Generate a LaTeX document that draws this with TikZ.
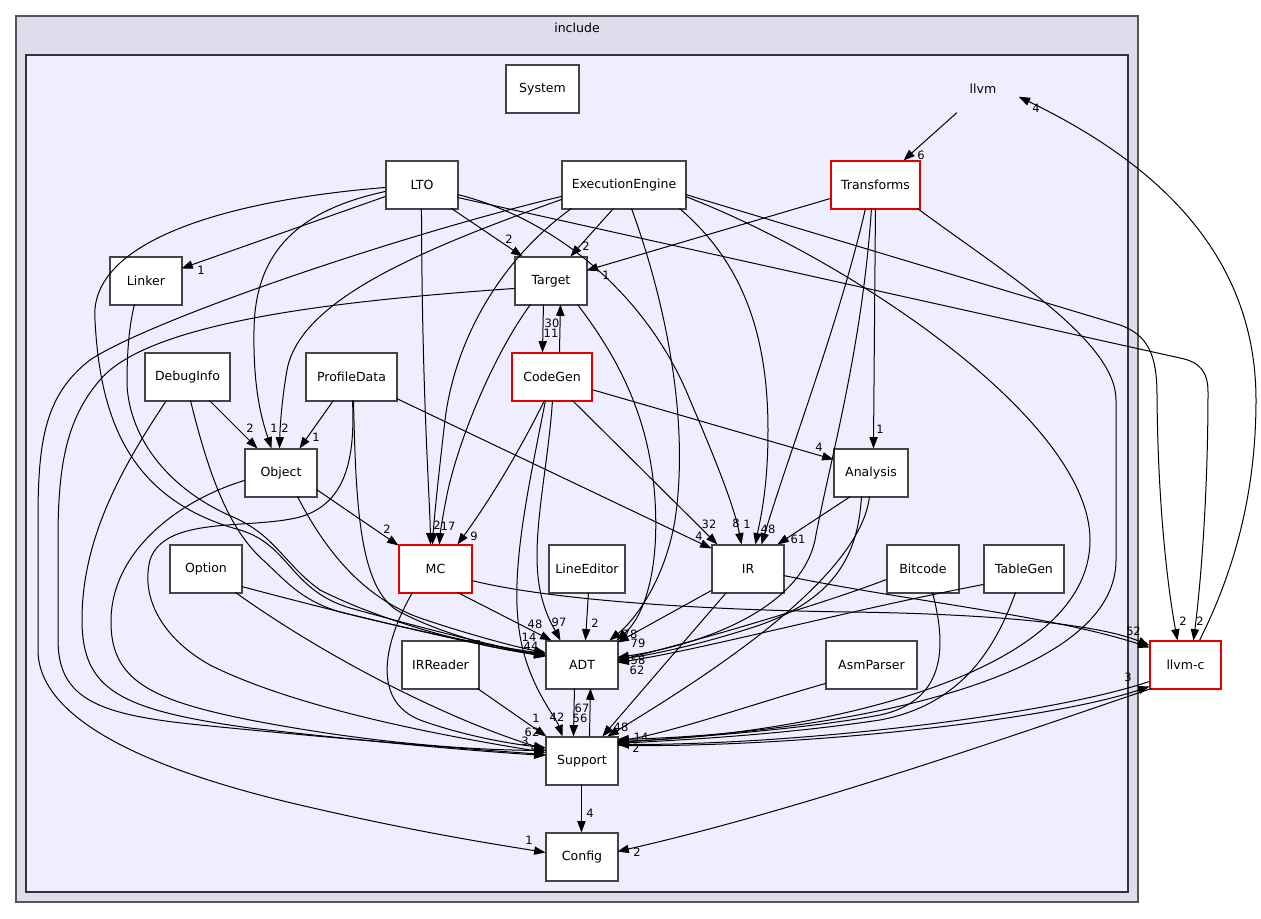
\documentclass[tikz,border=0pt]{standalone}
\usepackage{fontspec}
\setmainfont{DejaVu Sans}
\usetikzlibrary{arrows.meta}
\definecolor{incfill}{HTML}{DDDDEE}
\definecolor{llvmfill}{HTML}{EEEEFF}
\definecolor{incdraw}{HTML}{555555}
\definecolor{llvmdraw}{HTML}{333333}
\definecolor{boxdraw}{HTML}{444444}
\begin{document}
\begin{tikzpicture}[x=0.75pt,y=-0.75pt,
  box/.style={draw=boxdraw, fill=white, line width=0.8pt, minimum height=36pt, inner sep=0pt, font=\fontsize{9.4}{11}\selectfont},
  redbox/.style={box, draw=red!90!black},
  plain/.style={minimum height=36pt, minimum width=54pt, inner sep=0pt, font=\fontsize{9.4}{11}\selectfont},
  e/.style={draw=black, line width=0.75pt, -{Triangle[length=8.5pt,width=6.2pt]}},
  lbl/.style={font=\fontsize{8.6}{10}\selectfont, inner sep=0pt},
]
\useasboundingbox (0,0) rectangle (1261,919);
\fill[white] (0,0) rectangle (1261,919);
% clusters
\draw[fill=incfill, draw=incdraw, line width=1pt] (16,16) rectangle (1138,902);
\node[font=\fontsize{9.4}{11}\selectfont] (inclbl) at (577,28) {include};
\draw[fill=llvmfill, draw=llvmdraw, line width=0.9pt] (26,55) rectangle (1128,892);

% nodes
\node[plain] (llvm) at (983,89) {llvm};
\node[box, minimum width=54.75pt] (System) at (542.5,89) {System};
\node[box, minimum width=54pt] (LTO) at (422,185) {LTO};
\node[box, minimum width=93pt] (EE) at (624,185) {ExecutionEngine};
\node[redbox, minimum width=66.75pt] (Tr) at (875.5,185) {Transforms};
\node[box, minimum width=54pt] (Linker) at (146,281) {Linker};
\node[box, minimum width=54pt] (Target) at (551,281) {Target};
\node[box, minimum width=63.75pt] (DI) at (187.5,377) {DebugInfo};
\node[box, minimum width=68.25pt] (PD) at (351.5,377) {ProfileData};
\node[redbox, minimum width=60pt] (CG) at (552,377) {CodeGen};
\node[box, minimum width=54pt] (Object) at (281,473) {Object};
\node[box, minimum width=55.5pt] (An) at (871,473) {Analysis};
\node[box, minimum width=54pt] (Option) at (206,569) {Option};
\node[redbox, minimum width=54.75pt] (MC) at (435.5,569) {MC};
\node[box, minimum width=57pt] (LE) at (587,569) {LineEditor};
\node[box, minimum width=54pt] (IR) at (748,569) {IR};
\node[box, minimum width=54pt] (Bc) at (923,569) {Bitcode};
\node[box, minimum width=60pt] (TG) at (1024,569) {TableGen};
\node[box, minimum width=57.75pt] (IRR) at (440.5,665) {IRReader};
\node[box, minimum width=54pt] (ADT) at (582,665) {ADT};
\node[box, minimum width=68.25pt] (AP) at (871.5,665) {AsmParser};
\node[box, minimum width=54pt] (Support) at (582,761) {Support};
\node[box, minimum width=54pt] (Config) at (582,857) {Config};
\node[redbox, minimum width=53.25pt] (llvmc) at (1185.5,665) {llvm-c};

% edges
\draw[e] ([shift={(0,36)}]LTO.north west) -- ([shift={(72,12)}]Linker.north west);
\draw[e] ([shift={(66,48)}]LTO.north west) -- ([shift={(8,0)}]Target.north west);
\draw[e] ([shift={(36,48)}]LTO.north west) .. controls (422,400) and (430,500) .. ([shift={(32,0)}]MC.north west);
\draw[e] ([shift={(0,31)}]LTO.north west) .. controls (300,210) and (255,250) .. (254,330) .. controls (253,390) and (262,420) .. ([shift={(27,0)}]Object.north west);
\draw[e] ([shift={(0,27)}]LTO.north west) .. controls (230,200) and (88,240) .. (95,320) .. controls (100,420) and (130,500) .. (240,530) .. controls (290,545) and (290,590) .. (350,608) .. controls (430,630) and (500,648) .. ([shift={(0,14)}]ADT.north west);
\draw[e] ([shift={(72,34)}]LTO.north west) .. controls (560,220) and (650,300) .. (690,400) .. controls (720,470) and (735,510) .. ([shift={(30,0)}]IR.north west);
\draw[e] ([shift={(72,37)}]LTO.north west) -- (1180,358) .. controls (1200,362) and (1208,372) .. (1208,392) .. controls (1208,500) and (1200,590) .. ([shift={(44,0)}]llvmc.north west);

\draw[e] ([shift={(52,48)}]EE.north west) -- ([shift={(56,0)}]Target.north west);
\draw[e] ([shift={(10,48)}]EE.north west) .. controls (500,260) and (455,340) .. (445,420) .. controls (438,480) and (434,520) .. ([shift={(34,0)}]MC.north west);
\draw[e] ([shift={(0,39)}]EE.north west) .. controls (420,250) and (300,300) .. (287,370) .. controls (281,405) and (280,430) .. ([shift={(35,0)}]Object.north west);
\draw[e] ([shift={(0,36)}]EE.north west) .. controls (400,235) and (150,320) .. (90,360) .. controls (45,395) and (38,440) .. (38,520) -- (38,650) .. controls (38,720) and (150,770) .. (300,805) .. controls (420,833) and (500,845) .. ([shift={(0,20)}]Config.north west);
\draw[e] ([shift={(70,48)}]EE.north west) .. controls (665,300) and (690,420) .. (675,520) .. controls (665,580) and (635,620) .. ([shift={(64,0)}]ADT.north west);
\draw[e] ([shift={(118,48)}]EE.north west) .. controls (740,260) and (768,330) .. (768,430) .. controls (768,490) and (760,520) .. ([shift={(44,0)}]IR.north west);
\draw[e] ([shift={(124,36)}]EE.north west) .. controls (850,260) and (1090,420) .. (1090,540) .. controls (1090,680) and (800,735) .. ([shift={(72,5)}]Support.north west);
\draw[e] ([shift={(124,34)}]EE.north west) -- (1120,325) .. controls (1148,335) and (1157,355) .. (1157,395) .. controls (1158,520) and (1170,600) .. ([shift={(28,0)}]llvmc.north west);

\draw[e] ([shift={(0,38)}]Tr.north west) -- ([shift={(72,14)}]Target.north west);
\draw[e] ([shift={(35,48)}]Tr.north west) .. controls (840,320) and (790,450) .. ([shift={(50,0)}]IR.north west);
\draw[e] ([shift={(41,48)}]Tr.north west) .. controls (862,350) and (830,460) .. (815,540) .. controls (800,610) and (700,645) .. ([shift={(72,17)}]ADT.north west);
\draw[e] ([shift={(45,48)}]Tr.north west) -- ([shift={(40,0)}]An.north west);
\draw[e] ([shift={(87,48)}]Tr.north west) .. controls (1000,270) and (1116,340) .. (1116,400) -- (1116,560) .. controls (1116,690) and (800,735) .. ([shift={(72,3)}]Support.north west);
\draw[e] ([shift={(10,48)}]llvm.north west) -- ([shift={(73,0)}]Tr.north west);

\draw[e] ([shift={(29,48)}]Target.north west) -- ([shift={(31,0)}]CG.north west);
\draw[e] ([shift={(48,0)}]CG.north west) -- ([shift={(46,48)}]Target.north west);
\draw[e] ([shift={(16,48)}]Target.north west) .. controls (490,360) and (455,450) .. (446,500) .. controls (442,520) and (440,535) .. ([shift={(41,0)}]MC.north west);
\draw[e] ([shift={(0,32)}]Target.north west) .. controls (350,300) and (150,320) .. (100,380) .. controls (65,420) and (58,470) .. (58,540) -- (58,640) .. controls (58,700) and (100,715) .. (200,725) .. controls (350,740) and (480,750) .. ([shift={(0,18)}]Support.north west);
\draw[e] ([shift={(63,48)}]Target.north west) .. controls (620,360) and (650,420) .. (655,500) .. controls (660,580) and (640,620) .. ([shift={(71,0)}]ADT.north west);

\draw[e] ([shift={(65,48)}]DI.north west) -- ([shift={(13,0)}]Object.north west);
\draw[e] ([shift={(22,48)}]DI.north west) .. controls (120,470) and (82,540) .. (82,620) .. controls (82,690) and (120,710) .. (250,728) .. controls (400,745) and (490,752) .. ([shift={(0,19)}]Support.north west);
\draw[e] ([shift={(46,48)}]DI.north west) .. controls (210,480) and (230,530) .. (263,560) .. controls (285,580) and (300,600) .. (340,612) .. controls (420,632) and (500,648) .. ([shift={(0,13)}]ADT.north west);

\draw[e] ([shift={(28,48)}]PD.north west) -- ([shift={(55,0)}]Object.north west);
\draw[e] ([shift={(91,46)}]PD.north west) -- ([shift={(0,4)}]IR.north west);
\draw[e] ([shift={(48,48)}]PD.north west) .. controls (356,500) and (358,590) .. (400,612) .. controls (450,638) and (510,650) .. ([shift={(0,15)}]ADT.north west);
\draw[e] ([shift={(47,48)}]PD.north west) .. controls (356,470) and (340,505) .. (300,517) .. controls (250,530) and (165,515) .. (150,560) .. controls (140,600) and (165,640) .. (210,665) .. controls (300,710) and (450,737) .. ([shift={(0,16)}]Support.north west);

\draw[e] ([shift={(72,41)}]Object.north west) -- ([shift={(0,1)}]MC.north west);
\draw[e] ([shift={(53,48)}]Object.north west) .. controls (330,560) and (370,600) .. (420,618) .. controls (470,635) and (520,648) .. ([shift={(0,12)}]ADT.north west);
\draw[e] ([shift={(0,32)}]Object.north west) .. controls (180,500) and (112,550) .. (111,620) .. controls (110,680) and (150,700) .. (250,720) .. controls (380,745) and (480,750) .. ([shift={(0,14)}]Support.north west);

\draw[e] ([shift={(72,42)}]Option.north west) .. controls (330,610) and (450,640) .. ([shift={(0,16)}]ADT.north west);
\draw[e] ([shift={(66,48)}]Option.north west) .. controls (330,660) and (450,720) .. ([shift={(0,13)}]Support.north west);
\draw[e] ([shift={(25,48)}]Linker.north west) .. controls (128,330) and (127,360) .. (127,385) .. controls (130,440) and (170,490) .. (233,517) .. controls (275,535) and (285,565) .. (320,590) .. controls (400,630) and (500,650) .. ([shift={(0,15)}]ADT.north west);

\draw[e] ([shift={(33,48)}]CG.north west) .. controls (520,450) and (490,500) .. ([shift={(59,0)}]MC.north west);
\draw[e] ([shift={(80,37)}]CG.north west) -- ([shift={(0,11)}]An.north west);
\draw[e] ([shift={(61,48)}]CG.north west) -- ([shift={(6,0)}]IR.north west);
\draw[e] ([shift={(41,48)}]CG.north west) .. controls (548,470) and (530,540) .. (540,590) .. controls (545,615) and (555,630) .. ([shift={(15,0)}]ADT.north west);
\draw[e] ([shift={(34,48)}]CG.north west) .. controls (530,480) and (512,560) .. (518,620) .. controls (523,680) and (555,715) .. ([shift={(17,0)}]Support.north west);

\draw[e] ([shift={(17,48)}]An.north west) -- ([shift={(66,0)}]IR.north west);
\draw[e] ([shift={(28,48)}]An.north west) .. controls (858,560) and (830,600) .. (760,625) .. controls (700,645) and (650,655) .. ([shift={(72,19)}]ADT.north west);
\draw[e] ([shift={(36,48)}]An.north west) .. controls (860,580) and (700,680) .. ([shift={(62,0)}]Support.north west);

\draw[e] ([shift={(0,46)}]IR.north west) -- ([shift={(72,2)}]ADT.north west);
\draw[e] ([shift={(15,48)}]IR.north west) -- ([shift={(57,0)}]Support.north west);
\draw[e] ([shift={(72,31)}]IR.north west) .. controls (900,600) and (1050,615) .. ([shift={(0,7)}]llvmc.north west);
\draw[e] ([shift={(73,36)}]MC.north west) .. controls (550,600) and (700,610) .. (850,612) .. controls (1000,614) and (1100,625) .. ([shift={(0,5)}]llvmc.north west);
\draw[e] ([shift={(59,48)}]MC.north west) -- ([shift={(6,0)}]ADT.north west);
\draw[e] ([shift={(14,48)}]MC.north west) .. controls (385,640) and (370,700) .. (420,720) .. controls (470,738) and (520,745) .. ([shift={(0,11)}]Support.north west);

\draw[e] ([shift={(40,48)}]LE.north west) -- ([shift={(40,0)}]ADT.north west);
\draw[e] ([shift={(29,48)}]ADT.north west) -- ([shift={(28,0)}]Support.north west);
\draw[e] ([shift={(44,0)}]Support.north west) -- ([shift={(45,48)}]ADT.north west);
\draw[e] ([shift={(76,48)}]IRR.north west) -- ([shift={(1,0)}]Support.north west);
\draw[e] ([shift={(36,48)}]Support.north west) -- ([shift={(36,0)}]Config.north west);

\draw[e] ([shift={(0,35)}]Bc.north west) .. controls (820,605) and (700,640) .. ([shift={(72,20)}]ADT.north west);
\draw[e] ([shift={(46,48)}]Bc.north west) .. controls (945,640) and (950,700) .. (880,715) .. controls (800,730) and (680,738) .. ([shift={(72,6)}]Support.north west);
\draw[e] ([shift={(0,40)}]TG.north west) .. controls (850,610) and (700,650) .. ([shift={(72,22)}]ADT.north west);
\draw[e] ([shift={(32,48)}]TG.north west) .. controls (995,650) and (960,705) .. (880,720) .. controls (780,735) and (680,740) .. ([shift={(72,7)}]Support.north west);
\draw[e] ([shift={(0,43)}]AP.north west) .. controls (750,705) and (680,730) .. ([shift={(72,5)}]Support.north west);

\draw[e] ([shift={(50,0)}]llvmc.north west) .. controls (1240,560) and (1256,480) .. (1256,400) .. controls (1256,250) and (1150,160) .. ([shift={(72,32)}]llvm.north west);
\draw[e] ([shift={(72,9)}]Support.north west) .. controls (800,748) and (1050,720) .. ([shift={(0,46)}]llvmc.north west);
\draw[e] ([shift={(0,41)}]llvmc.north west) .. controls (1050,715) and (800,745) .. ([shift={(72,8)}]Support.north west);
\draw[e] ([shift={(2,48)}]llvmc.north west) .. controls (1000,740) and (800,810) .. ([shift={(72,19)}]Config.north west);

% edge labels
\node[lbl] (l1) at (921,155) {6};
\node[lbl] (l2) at (1036,108) {4};
\node[lbl] (l3) at (201,270) {1};
\node[lbl] (l4) at (509,239) {2};
\node[lbl] (l5) at (586,246) {2};
\node[lbl] (l6) at (606,275) {1};
\node[lbl] (l7) at (437,525) {2};
\node[lbl] (l8) at (448,526) {17};
\node[lbl] (l9) at (474,536) {9};
\node[lbl] (l10) at (552,323) {30};
\node[lbl] (l11) at (551,333) {11};
\node[lbl] (l12) at (387,529) {2};
\node[lbl] (l13) at (250,428) {2};
\node[lbl] (l14) at (274,428) {1};
\node[lbl] (l15) at (285,428) {2};
\node[lbl] (l16) at (316,437) {1};
\node[lbl] (l17) at (819,447) {4};
\node[lbl] (l18) at (880,429) {1};
\node[lbl] (l19) at (798,539) {61};
\node[lbl] (l20) at (709,524) {32};
\node[lbl] (l21) at (699,536) {4};
\node[lbl] (l22) at (736,523) {8};
\node[lbl] (l23) at (747,524) {1};
\node[lbl] (l24) at (768,529) {48};
\node[lbl] (l25) at (630,634) {78};
\node[lbl] (l26) at (638,643) {79};
\node[lbl] (l27) at (638,660) {58};
\node[lbl] (l28) at (637,670) {62};
\node[lbl] (l29) at (535,624) {48};
\node[lbl] (l30) at (559,622) {97};
\node[lbl] (l31) at (595,623) {2};
\node[lbl] (l32) at (529,637) {14};
\node[lbl] (l33) at (531,646) {44};
\node[lbl] (l34) at (582,708) {67};
\node[lbl] (l35) at (580,718) {56};
\node[lbl] (l36) at (536,718) {1};
\node[lbl] (l37) at (557,717) {42};
\node[lbl] (l38) at (621,727) {48};
\node[lbl] (l39) at (641,737) {14};
\node[lbl] (l40) at (636,748) {2};
\node[lbl] (l41) at (532,732) {62};
\node[lbl] (l42) at (534,750) {5};
\node[lbl] (l43) at (525,741) {3};
\node[lbl] (l44) at (590,813) {4};
\node[lbl] (l45) at (529,840) {1};
\node[lbl] (l46) at (637,852) {2};
\node[lbl] (l47) at (1128,677) {3};
\node[lbl] (l48) at (1130,631) {5};
\node[lbl] (l49) at (1137,631) {2};
\node[lbl] (l50) at (1183,621) {2};
\node[lbl] (l51) at (1200,621) {2};
\end{tikzpicture}
\end{document}
